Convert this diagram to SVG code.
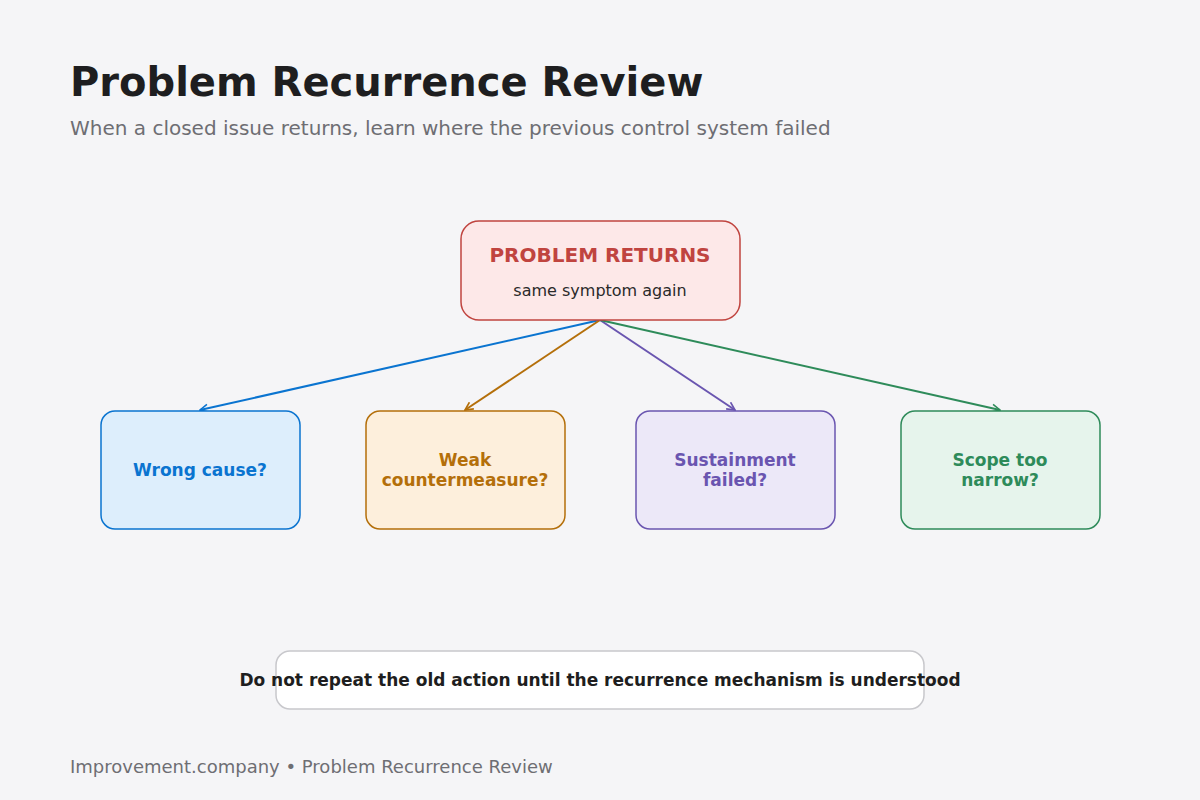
<svg xmlns="http://www.w3.org/2000/svg" width="1200" height="800" viewBox="0 0 1200 800">
<style>
text{font-family:"DejaVu Sans",sans-serif}
.t{font-weight:bold;font-size:17px;text-anchor:middle}
</style>
<defs>
<marker id="mb" viewBox="0 0 10 10" refX="9" refY="5" markerWidth="10" markerHeight="10" orient="auto" markerUnits="userSpaceOnUse"><path d="M1,1 L9,5 L1,9" fill="none" stroke="#0a74d0" stroke-width="1.6"/></marker>
<marker id="mo" viewBox="0 0 10 10" refX="9" refY="5" markerWidth="10" markerHeight="10" orient="auto" markerUnits="userSpaceOnUse"><path d="M1,1 L9,5 L1,9" fill="none" stroke="#b46f0a" stroke-width="1.6"/></marker>
<marker id="mp" viewBox="0 0 10 10" refX="9" refY="5" markerWidth="10" markerHeight="10" orient="auto" markerUnits="userSpaceOnUse"><path d="M1,1 L9,5 L1,9" fill="none" stroke="#6a55b0" stroke-width="1.6"/></marker>
<marker id="mg" viewBox="0 0 10 10" refX="9" refY="5" markerWidth="10" markerHeight="10" orient="auto" markerUnits="userSpaceOnUse"><path d="M1,1 L9,5 L1,9" fill="none" stroke="#2e8b5a" stroke-width="1.6"/></marker>
</defs>
<rect width="1200" height="800" fill="#f5f5f7"/>
<text x="70" y="96" font-size="40" font-weight="bold" fill="#1e1e20">Problem Recurrence Review</text>
<text x="70" y="135" font-size="20" fill="#6e6e73">When a closed issue returns, learn where the previous control system failed</text>
<g id="connectors" fill="none" stroke-width="2">
<line x1="600" y1="320" x2="200" y2="410" stroke="#0a74d0" marker-end="url(#mb)"/>
<line x1="600" y1="320" x2="465" y2="410" stroke="#b46f0a" marker-end="url(#mo)"/>
<line x1="600" y1="320" x2="735" y2="410" stroke="#6a55b0" marker-end="url(#mp)"/>
<line x1="600" y1="320" x2="1000" y2="410" stroke="#2e8b5a" marker-end="url(#mg)"/>
</g>
<g id="n-problem"><rect x="461" y="221" width="279" height="99" rx="18" fill="#fde8e8" stroke="#c0443f" stroke-width="1.5"/>
<text x="600" y="262" class="t" fill="#c0443f" style="font-size:20px">PROBLEM RETURNS</text>
<text x="600" y="296" font-size="16" text-anchor="middle" fill="#2a2a2a">same symptom again</text></g>
<g id="n-cause"><rect x="101" y="411" width="199" height="118" rx="14" fill="#ddeefc" stroke="#0a74d0" stroke-width="1.5"/>
<text x="200" y="476" class="t" fill="#0a74d0">Wrong cause?</text></g>
<g id="n-weak"><rect x="366" y="411" width="199" height="118" rx="14" fill="#fdefdc" stroke="#b46f0a" stroke-width="1.5"/>
<text x="465" y="466" class="t" fill="#b46f0a">Weak</text><text x="465" y="486" class="t" fill="#b46f0a">countermeasure?</text></g>
<g id="n-sustain"><rect x="636" y="411" width="199" height="118" rx="14" fill="#ece8f8" stroke="#6a55b0" stroke-width="1.5"/>
<text x="735" y="466" class="t" fill="#6a55b0">Sustainment</text><text x="735" y="486" class="t" fill="#6a55b0">failed?</text></g>
<g id="n-scope"><rect x="901" y="411" width="199" height="118" rx="14" fill="#e6f4ec" stroke="#2e8b5a" stroke-width="1.5"/>
<text x="1000" y="466" class="t" fill="#2e8b5a">Scope too</text><text x="1000" y="486" class="t" fill="#2e8b5a">narrow?</text></g>
<g id="n-note"><rect x="276" y="651" width="648" height="58" rx="14" fill="#ffffff" stroke="#c8c8cc" stroke-width="1.5"/>
<text x="600" y="686" class="t" fill="#1e1e20">Do not repeat the old action until the recurrence mechanism is understood</text></g>
<text x="70" y="773" font-size="18" fill="#6e6e73">Improvement.company • Problem Recurrence Review</text>
</svg>
